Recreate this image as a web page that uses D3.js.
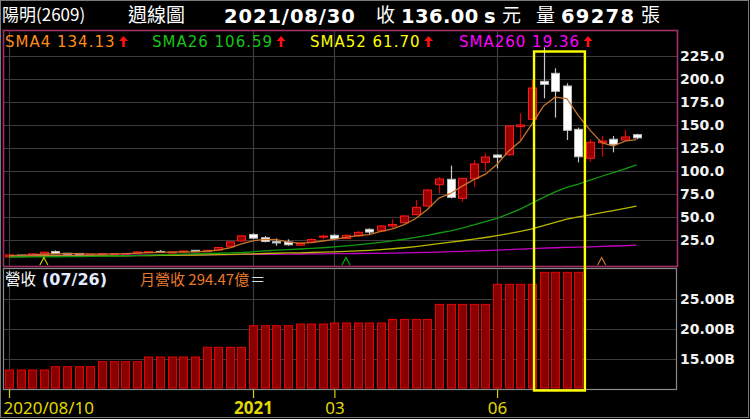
<!DOCTYPE html>
<html><head><meta charset="utf-8">
<script src="https://cdn.jsdelivr.net/npm/d3@7"></script>
<style>html,body{margin:0;padding:0;background:#000;overflow:hidden}svg{display:block}</style>
</head><body><svg id="c" width="750" height="419"></svg>
<script>
// ---------------- DATA ----------------
const dates = ["2020/08/10","2020/08/17","2020/08/24","2020/08/31","2020/09/07","2020/09/14","2020/09/21","2020/09/28",
"2020/10/05","2020/10/12","2020/10/19","2020/10/26","2020/11/02","2020/11/09","2020/11/16","2020/11/23","2020/11/30",
"2020/12/07","2020/12/14","2020/12/21","2020/12/28","2021/01/04","2021/01/11","2021/01/18","2021/01/25","2021/02/01",
"2021/02/17","2021/02/22","2021/03/01","2021/03/08","2021/03/15","2021/03/22","2021/03/29","2021/04/06","2021/04/12",
"2021/04/19","2021/04/26","2021/05/03","2021/05/10","2021/05/17","2021/05/24","2021/05/31","2021/06/07","2021/06/15",
"2021/06/21","2021/06/28","2021/07/05","2021/07/12","2021/07/19","2021/07/26","2021/08/02","2021/08/09","2021/08/16",
"2021/08/23","2021/08/30"];
const openP = [6.6,8.6,8.6,9.3,12.4,10.6,10.4,9.5,9.0,9.4,10.2,10.6,11.5,12.6,11.6,11.8,13.8,12.3,14.0,17.5,23.9,
31.0,27.5,23.2,22.8,19.4,22.5,28.2,30.1,26.5,29.4,36.6,34.8,40.2,43.8,52.5,62.0,85.1,91.0,70.3,91.6,109.4,117.4,
117.7,148.2,156.2,197.5,206.2,192.4,145.3,113.8,130.8,134.5,133.7,139.5];
const highP = [9.2,8.9,10.2,12.4,13.8,10.9,10.6,10.0,10.5,10.6,10.8,12.4,13.0,14.0,12.3,13.4,14.2,14.2,17.3,23.6,30.2,
32.5,29.3,26.8,25.7,21.9,26.8,30.8,31.2,31.2,35.1,37.7,41.3,47.5,52.2,68.4,80.4,93.5,105.8,92.5,112.0,119.2,118.0,
149.5,162.7,199.7,234.5,211.6,195.3,147.1,134.5,138.0,138.0,144.6,140.5];
const lowP = [6.4,8.0,8.4,9.1,9.8,9.2,9.2,9.3,8.9,9.2,10.0,10.4,11.3,11.2,11.4,11.6,12.0,12.1,13.8,17.2,23.5,
26.0,22.4,18.8,18.8,18.9,21.8,25.4,25.0,26.0,28.3,31.2,34.0,37.7,43.0,51.8,61.0,75.4,70.3,66.6,82.9,100.3,102.9,
116.5,133.7,155.0,179.0,158.0,133.7,109.4,110.1,115.5,120.3,133.0,134.5];
const closeP = [8.8,8.4,9.9,11.7,10.0,9.4,9.5,9.7,10.2,10.2,10.4,12.0,12.3,11.4,11.9,13.0,12.3,13.8,16.8,23.0,29.5,
27.0,23.4,21.8,19.8,21.2,25.5,29.2,26.5,30.1,33.3,33.6,40.2,41.8,51.1,60.5,79.3,91.3,71.4,92.0,107.6,115.2,114.9,
148.9,150.0,190.2,194.2,186.6,144.2,115.5,131.2,132.6,129.0,137.0,136.0];
const sma4 = [8.0,8.3,8.8,9.7,10.0,10.25,10.15,9.65,9.7,9.9,10.1,10.7,11.2,11.5,11.9,12.15,12.15,12.75,13.98,16.5,20.8,
24.1,25.7,25.4,23.0,21.55,22.1,23.9,25.6,27.8,29.8,30.9,34.3,37.2,41.7,48.4,58.2,70.55,75.6,83.5,90.6,96.55,107.4,
121.65,132.25,151.0,170.8,180.25,178.8,160.1,144.4,130.9,127.1,132.45,134.13];
const sma26 = [6.5,6.5,6.6,6.7,6.8,6.9,7.0,7.2,7.4,7.6,7.9,8.2,8.5,8.8,9.2,9.6,10.0,10.3,10.6,11.0,11.4,
12.2,13.2,14.0,14.6,15.2,15.9,16.6,17.5,18.6,19.8,21.1,22.5,24.0,25.8,27.8,30.0,32.6,35.0,38.0,41.5,44.9,48.6,
53.4,58.6,65.0,71.3,77.4,82.1,85.7,90.0,94.3,98.3,102.4,106.59];
const sma52 = [7.5,7.5,7.5,7.6,7.6,7.6,7.7,7.7,7.8,7.8,7.9,8.0,8.1,8.2,8.3,8.5,8.7,8.9,9.1,9.4,9.7,
10.0,10.3,10.6,10.9,11.1,11.4,11.8,12.2,12.7,13.2,13.8,14.6,15.5,16.6,17.9,19.4,21.0,22.6,24.2,25.9,27.7,29.7,
31.9,34.4,37.1,40.6,44.2,47.6,50.2,52.4,54.7,57.0,59.3,61.70];
const sma260 = [8.0,8.0,8.1,8.1,8.1,8.2,8.2,8.2,8.3,8.3,8.4,8.4,8.5,8.5,8.6,8.7,8.8,8.9,9.0,9.1,9.3,
9.4,9.5,9.6,9.7,9.8,9.9,10.0,10.1,10.2,10.3,10.4,10.5,10.7,10.9,11.2,11.5,11.9,12.3,12.7,13.1,13.5,14.0,
14.5,15.0,15.6,16.1,16.6,17.0,17.3,17.6,18.0,18.5,18.9,19.36];
// monthly revenue (billion NTD) shown on each week
const revenue = [13.17,13.17,13.17,13.17,13.72,13.72,13.72,13.72,14.55,14.55,14.55,14.55,15.33,15.33,15.33,15.33,15.33,
16.95,16.95,16.95,16.95,20.55,20.55,20.55,20.55,20.83,20.83,20.83,21.0,21.0,21.0,21.0,21.0,21.6,21.6,21.6,21.6,
24.1,24.1,24.1,24.1,24.1,27.45,27.45,27.45,27.45,29.447,29.447,29.447,29.447,null,null,null,null,null];
const priceTicks = [25,50,75,100,125,150,175,200,225];
const revTicks = [15,20,25];
const xTickDates = ["2020/08/10","2021/01/04","2021/03/01","2021/06/07"];
const xTickLabels = ["2020/08/10","2021","03","06"];
const maNames = ["SMA4","SMA26","SMA52","SMA260"];
const maLast = ["134.13","106.59","61.70","19.36"];
const caretDates = ["2020/08/31","2021/03/08","2021/08/09"]; // SMA52, SMA26, SMA4 deduction points
const boxDates = ["2021/07/05","2021/07/26"];

// ---------------- LAYOUT ----------------
const svg = d3.select("#c");
const P = {l:3, r:677, t:30, b:266};     // price panel
const R = {l:3, r:676, t:268, b:389};    // revenue panel
const cjk = "'Noto Sans CJK TC','Noto Sans CJK SC',sans-serif";
const num = "'DejaVu Sans',Verdana,sans-serif";

svg.append("rect").attr("width",750).attr("height",419).attr("fill","#000");

const x = d3.scalePoint().domain(dates).range([9, 636.5]);
const y = d3.scaleLinear().domain([0,225]).range([263,56]);
const yr = d3.scaleLinear().domain([15,25]).range([359,299]);
const grid = "#3c3c3c";

// horizontal grid
svg.append("g").selectAll("line").data(priceTicks).join("line")
  .attr("x1",P.l).attr("x2",P.r).attr("y1",d=>Math.round(y(d))+0.5).attr("y2",d=>Math.round(y(d))+0.5)
  .attr("stroke",grid).attr("stroke-width",1.2);
svg.append("g").selectAll("line").data(revTicks).join("line")
  .attr("x1",R.l).attr("x2",R.r).attr("y1",d=>Math.round(yr(d))+0.5).attr("y2",d=>Math.round(yr(d))+0.5)
  .attr("stroke",grid).attr("stroke-width",1.2);
// vertical grid
const vg = svg.append("g");
xTickDates.forEach(d=>{
  const xx = Math.round(x(d))+0.5;
  vg.append("line").attr("x1",xx).attr("x2",xx).attr("y1",P.t).attr("y2",P.b).attr("stroke",grid).attr("stroke-width",1.2);
  vg.append("line").attr("x1",xx).attr("x2",xx).attr("y1",R.t).attr("y2",R.b).attr("stroke",grid).attr("stroke-width",1.2);
});

// candles
const bw = 8;
const cd = dates.map((d,i)=>({d,o:openP[i],h:highP[i],l:lowP[i],c:closeP[i]}));
const cg = svg.append("g");
cd.forEach(k=>{
  const up = k.c >= k.o;
  const cx = Math.round(x(k.d))+0.5;
  cg.append("line").attr("x1",cx).attr("x2",cx).attr("y1",y(k.h)).attr("y2",y(k.l))
    .attr("stroke", up ? "#e00000" : "#c8c8c8").attr("stroke-width",1.2);
  const top = y(Math.max(k.o,k.c)), bot = y(Math.min(k.o,k.c));
  cg.append("rect").attr("x",cx-bw/2).attr("y",top).attr("width",bw).attr("height",Math.max(1,bot-top))
    .attr("fill", up ? "#9a0000" : "#ffffff").attr("stroke", up ? "#ff1a1a" : "#bdbdbd").attr("stroke-width",1);
});

// moving averages
const maSeries = [sma260, sma52, sma26, sma4];
const maColors = ["#c800c8","#b8b800","#119a11","#c8742a"];
maSeries.forEach((s,j)=>{
  svg.append("path").datum(s)
    .attr("d", d3.line().x((v,i)=>x(dates[i])).y(v=>y(v)))
    .attr("fill","none").attr("stroke",maColors[j]).attr("stroke-width",1.3);
});

// deduction carets
const caretColors = ["#c8c800","#00b000","#c87830"];
caretDates.forEach((d,j)=>{
  const cx = x(d);
  svg.append("path").attr("d",`M${cx-4},265 L${cx},257.5 L${cx+4},265`)
    .attr("fill","none").attr("stroke",caretColors[j]).attr("stroke-width",1.2);
});

// revenue bars
const base = R.b - 1;
svg.append("g").selectAll("rect").data(dates.map((d,i)=>({d,v:revenue[i]})).filter(e=>e.v!=null)).join("rect")
  .attr("x",e=>Math.round(x(e.d))-4+0.5).attr("y",e=>yr(e.v)).attr("width",bw).attr("height",e=>base-yr(e.v))
  .attr("fill","#880000").attr("stroke","#e80000").attr("stroke-width",1);

// panel borders
svg.append("rect").attr("x",P.l+0.5).attr("y",P.t+0.5).attr("width",P.r-P.l).attr("height",P.b-P.t)
  .attr("fill","none").attr("stroke","#a43068").attr("stroke-width",1.6);
svg.append("rect").attr("x",R.l+0.5).attr("y",R.t+0.5).attr("width",R.r-R.l).attr("height",R.b-R.t)
  .attr("fill","none").attr("stroke","#8a8a8a").attr("stroke-width",1.2);

// highlight box
const bx0 = x(boxDates[0]) - 9.5, bx1 = x(boxDates[1]) + 6.5;
svg.append("rect").attr("x",bx0).attr("y",51.5).attr("width",bx1-bx0).attr("height",339)
  .attr("fill","none").attr("stroke","#ffff00").attr("stroke-width",2.4);

// y axes
const ay = svg.append("g").attr("transform",`translate(${P.r},0)`)
  .call(d3.axisRight(y).tickValues(priceTicks).tickSize(0).tickPadding(3).tickFormat(d3.format(".1f")));
const ar = svg.append("g").attr("transform",`translate(${R.r},0)`)
  .call(d3.axisRight(yr).tickValues(revTicks).tickSize(0).tickPadding(4).tickFormat(d=>d3.format(".2f")(d)+"B"));
[ay,ar].forEach(g=>{
  g.select(".domain").remove();
  g.selectAll("text").attr("fill","#f2f2f2").attr("font-family",num).attr("font-weight","bold").attr("font-size",14);
});

// x axis
const ax = svg.append("g").attr("transform",`translate(0,${R.b+1})`)
  .call(d3.axisBottom(x).tickValues(xTickDates).tickSize(8).tickPadding(4)
    .tickFormat(d=>xTickLabels[xTickDates.indexOf(d)]));
ax.select(".domain").remove();
ax.selectAll("line").attr("stroke","#d8d000").attr("stroke-width",1.2);
ax.selectAll("text").attr("fill","#e0d800").attr("font-family","'Noto Sans',sans-serif").attr("font-size",17)
  .attr("font-weight",d=>d==="2021/01/04"?"bold":"normal")
  .attr("text-anchor",(d,i)=>i===0?"start":"middle")
  .attr("x",(d,i)=>i===0?-6:0);

// outer frame
svg.append("rect").attr("x",0.5).attr("y",0.5).attr("width",748).attr("height",417)
  .attr("fill","none").attr("stroke","#7a7a7a").attr("stroke-width",1);

// header
function txt(s,xx,yy,opt){
  const t = svg.append("text").attr("x",xx).attr("y",yy).text(s)
    .attr("fill",opt.fill||"#fff").attr("font-family",opt.ff||cjk).attr("font-size",opt.fs||17)
    .attr("font-weight",opt.fw||"normal");
  if(opt.ls) t.attr("letter-spacing",opt.ls);
  return t;
}
txt("陽明(2609)",2,21,{fs:17});
txt("週線圖",128,22,{fs:19});
txt("2021/08/30",224,23,{ff:num,fw:"bold",fs:19.5,ls:0.9});
txt("收",376,22,{fs:19});
txt("136.00",401,23,{ff:num,fw:"bold",fs:19.5,ls:0.4});
txt("s",484,23,{ff:num,fw:"bold",fs:19.5});
txt("元",502,22,{fs:19});
txt("量",536,22,{fs:19});
txt("69278",561,23,{ff:num,fw:"bold",fs:19.5,ls:1.3});
txt("張",641,22,{fs:19});

// legend
const legX = [5,152,310,459];
const legColors = ["#ff8c1a","#18c418","#ffff00","#ff00ff"];
[0,1,2,3].forEach(j=>{
  const t = txt(maNames[j]+" "+maLast[j],legX[j],47,{ff:num,fs:15,fill:legColors[j],ls:1});
  const w = t.node().getComputedTextLength();
  const ax0 = legX[j]+w+8;
  svg.append("path").attr("d",`M${ax0},36 L${ax0+4.5},41 L${ax0+1.3},41 L${ax0+1.3},47 L${ax0-1.3},47 L${ax0-1.3},41 L${ax0-4.5},41 Z`)
    .attr("fill","#ff1010");
});

// revenue panel label
txt("營收",5,285,{fs:15.5});
txt("(07/26)",42,285,{ff:num,fw:"bold",fs:16,fill:"#e2eaff"});
const rl = txt("月營收 294.47億",140,285,{fs:15,fill:"#e8782a"});
txt("＝",140+rl.node().getComputedTextLength()+1,285,{fs:15,fill:"#e0e0e0"});
</script></body></html>
